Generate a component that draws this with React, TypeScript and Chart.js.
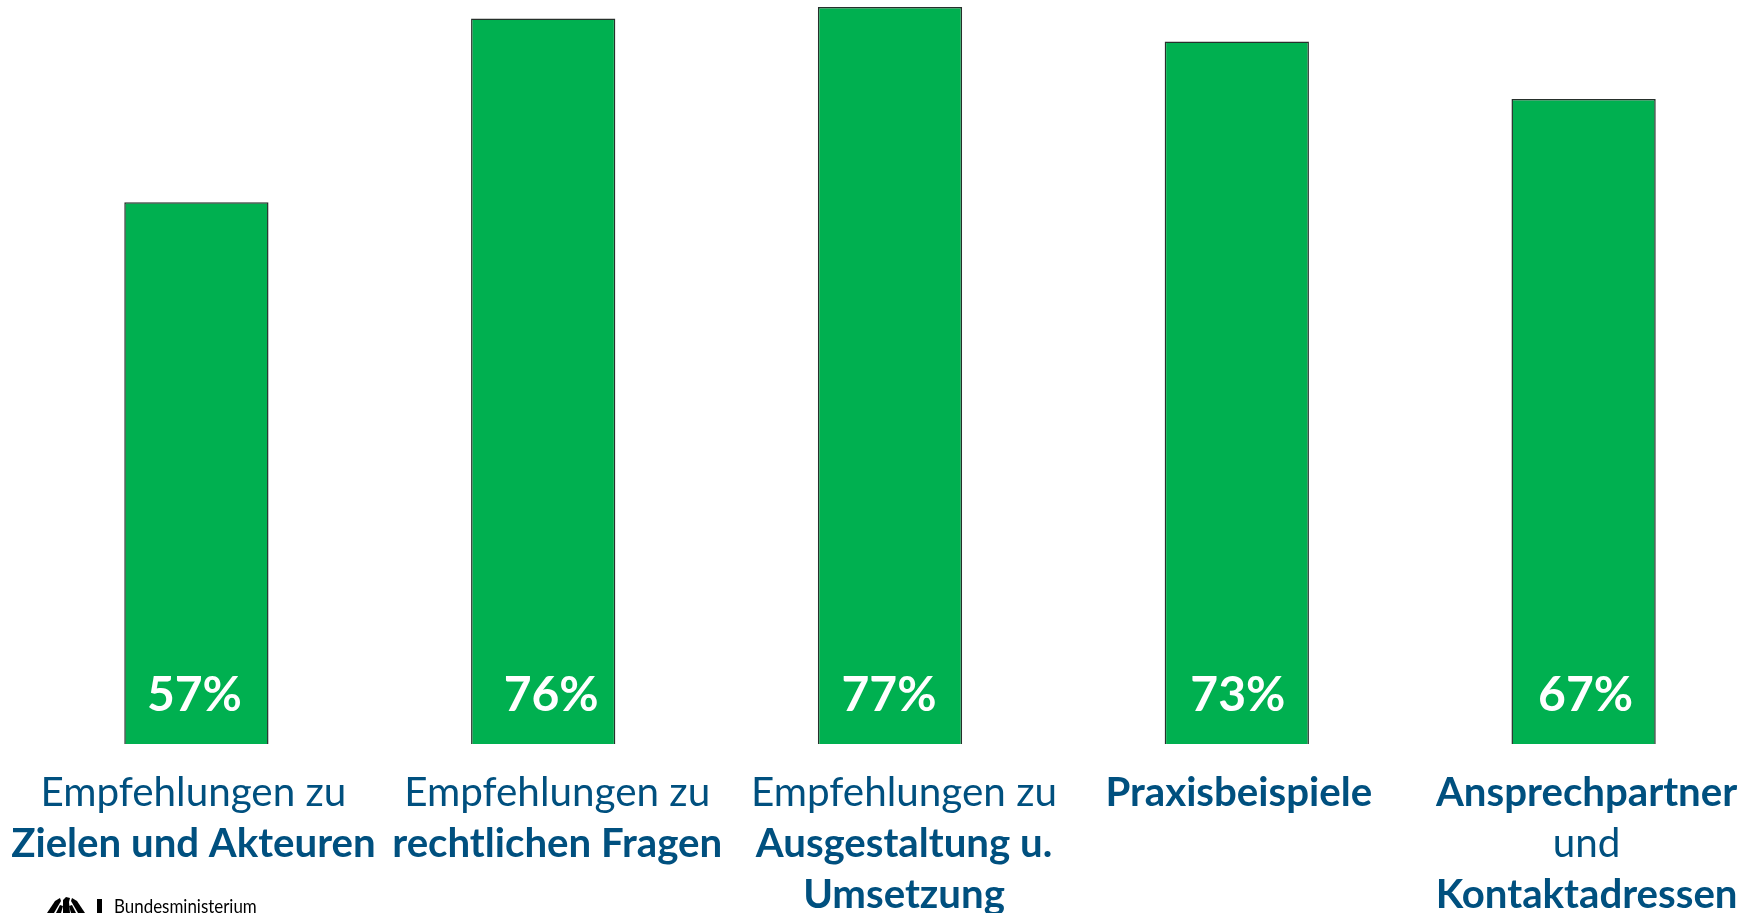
import React, { useEffect, useRef } from "react";
import { Chart, registerables } from "chart.js";

Chart.register(...registerables);

const categories = ["Ziele", "Recht", "Umsetzung", "Praxis", "Kontakte"];
const values = [56.6, 75.8, 77.0, 73.4, 67.4];
const categoryLines = [
  ["Empfehlungen zu", "Zielen und Akteuren"],
  ["Empfehlungen zu", "rechtlichen Fragen"],
  ["Empfehlungen zu", "Ausgestaltung u.", "Umsetzung"],
  ["Praxisbeispiele"],
  ["Ansprechpartner", "und", "Kontaktadressen"],
];
const categoryBold = [
  [false, true],
  [false, true],
  [false, true, true],
  [true],
  [true, false, true],
];
const labelOffsets = [-3, 14, 14, 2, 3];
const valueOffsets = [-2, 8, -1, 1, 2];
const logoText = "Bundesministerium";

const FONT = "Lato";
const BLUE = "#00507F";

const textPlugin = {
  id: "textPlugin",
  afterDatasetsDraw(chart: any) {
    const { ctx, scales } = chart;
    const base = scales.y.getPixelForValue(0);
    ctx.save();
    ctx.textAlign = "center";
    ctx.textBaseline = "alphabetic";
    values.forEach((v, i) => {
      const x = scales.x.getPixelForValue(i);
      ctx.fillStyle = "#ffffff";
      ctx.font = `700 48px ${FONT}`;
      ctx.fillText(`${Math.round(v)}%`, x + valueOffsets[i], base - 33);
      ctx.fillStyle = BLUE;
      categoryLines[i].forEach((line, j) => {
        ctx.font = `${categoryBold[i][j] ? 700 : 400} ${categoryBold[i][j] ? 40.2 : 40.4}px ${FONT}`;
        ctx.fillText(line, x + labelOffsets[i], base + 62 + j * 51);
      });
    });
    // logo: eagle silhouette, bar and ministry name
    ctx.fillStyle = "#000000";
    const poly = (pts: number[][]) => {
      ctx.beginPath();
      pts.forEach(([px, py], k) => (k ? ctx.lineTo(px, py) : ctx.moveTo(px, py)));
      ctx.closePath();
      ctx.fill();
    };
    poly([[47, 913], [55, 901], [60, 898], [61, 901], [54, 913]]);
    poly([[85, 913], [77, 901], [72, 898], [71, 901], [78, 913]]);
    poly([[56, 913], [60, 905], [63, 906], [61, 913]]);
    poly([[76, 913], [72, 905], [69, 906], [71, 913]]);
    poly([[63, 900], [66, 897], [70, 898], [69, 902], [70, 913], [63, 913]]);
    ctx.fillRect(97, 899, 5, 14);
    ctx.translate(114, 913);
    ctx.scale(0.915, 1.08);
    ctx.textAlign = "left";
    ctx.font = `400 18.5px ${FONT}`;
    ctx.fillText(logoText, 0, 0);
    ctx.restore();
  },
};

export default function App() {
  const ref = useRef<HTMLCanvasElement>(null);
  useEffect(() => {
    document.body.style.margin = "0";
    document.body.style.background = "#ffffff";
    const chart = new Chart(ref.current!, {
      type: "bar",
      data: {
        labels: categories,
        datasets: [
          {
            data: values,
            backgroundColor: "#00B050",
            borderColor: "#26302B",
            borderWidth: 1.5,
            barPercentage: 0.416,
            categoryPercentage: 1,
          },
        ],
      },
      options: {
        animation: false,
        responsive: false,
        layout: { padding: { left: 23, right: 1, top: 7, bottom: 169 } },
        plugins: { legend: { display: false }, tooltip: { enabled: false } },
        scales: {
          x: { display: false, grid: { display: false } },
          y: { display: false, min: 0, max: 77, grid: { display: false } },
        },
      },
      plugins: [textPlugin],
    });
    return () => chart.destroy();
  }, []);
  return (
    <canvas
      ref={ref}
      width={1758}
      height={913}
      style={{ display: "block", width: 1758, height: 913 }}
    />
  );
}
